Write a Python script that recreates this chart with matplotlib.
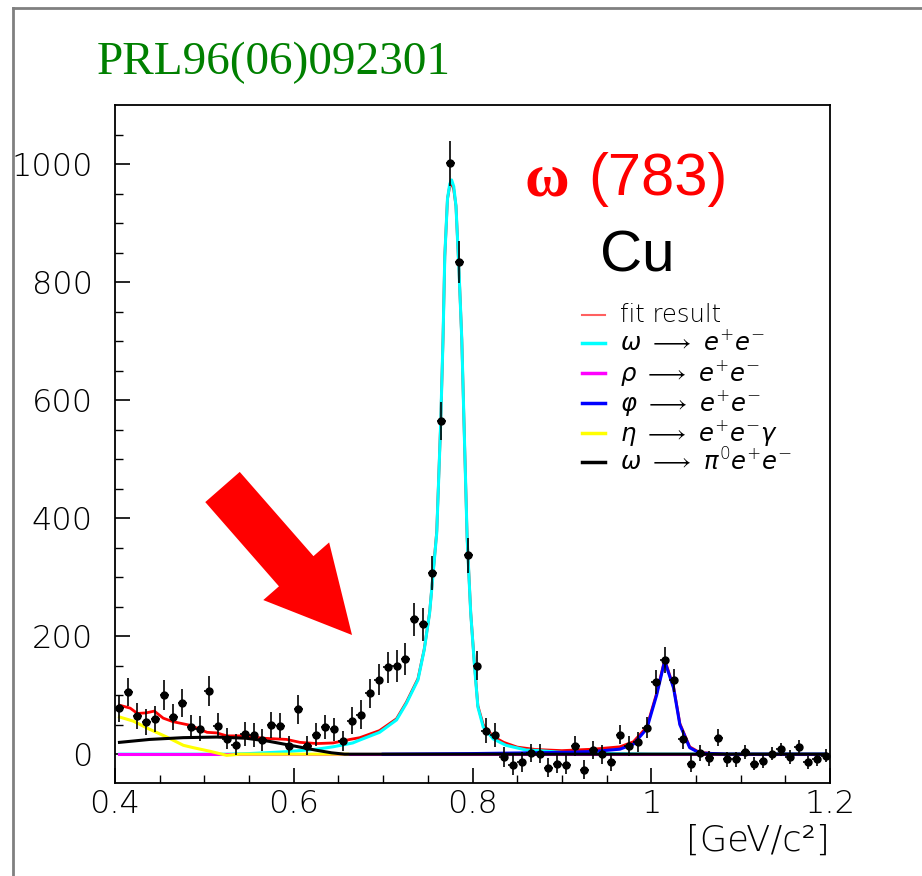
"""
omega(783) -> e+e- mass spectrum on Cu with fit components (KEK E325 style plot).
"""
import matplotlib
matplotlib.use("Agg")
import matplotlib.pyplot as plt
from matplotlib.lines import Line2D

W, H = 922, 876

# background-subtracted e+e- invariant mass spectrum, 10 MeV bins
mass = [0.405, 0.415, 0.425, 0.435, 0.445, 0.455, 0.465, 0.475, 0.485, 0.495,
        0.505, 0.515, 0.525, 0.535, 0.545, 0.555, 0.565, 0.575, 0.585, 0.595,
        0.605, 0.615, 0.625, 0.635, 0.645, 0.655, 0.665, 0.675, 0.685, 0.695,
        0.705, 0.715, 0.725, 0.735, 0.745, 0.755, 0.765, 0.775, 0.785, 0.795,
        0.805, 0.815, 0.825, 0.835, 0.845, 0.855, 0.865, 0.875, 0.885, 0.895,
        0.905, 0.915, 0.925, 0.935, 0.945, 0.955, 0.965, 0.975, 0.985, 0.995,
        1.005, 1.015, 1.025, 1.035, 1.045, 1.055, 1.065, 1.075, 1.085, 1.095,
        1.105, 1.115, 1.125, 1.135, 1.145, 1.155, 1.165, 1.175, 1.185, 1.195]
counts = [78, 105, 65, 54, 60, 100, 63, 87, 46, 43,
          107, 48, 26, 16, 34, 33, 24, 50, 48, 14,
          76, 14, 33, 46, 42, 23, 57, 67, 103, 126,
          147, 149, 162, 229, 220, 307, 565, 1001, 834, 337,
          150, 40, 32, -5, -19, -14, 2, 1, -23, -16,
          -18, 14, -26, 7, 0, -13, 33, 14, 20, 45,
          122, 160, 125, 25, -16, 2, -7, 28, -9, -9,
          3, -16, -12, 1, 8, -5, 12, -14, -9, -3]
errors = [23, 24, 22, 22, 22, 25, 22, 24, 21, 21,
          26, 21, 18, 18, 20, 20, 19, 22, 21, 16,
          25, 16, 19, 21, 20, 17, 23, 24, 25, 26,
          26, 27, 27, 28, 28, 29, 32, 38, 35, 30,
          24, 21, 20, 17, 17, 17, 16, 16, 16, 16,
          16, 17, 16, 15, 16, 15, 16, 17, 17, 18,
          20, 22, 20, 16, 14, 13, 13, 14, 12, 12,
          12, 11, 12, 11, 11, 12, 12, 11, 11, 11]

# fit result (sum of all components)
fit_x = [0.405, 0.417, 0.425, 0.435, 0.444, 0.454, 0.465, 0.484, 0.503, 0.514,
         0.525, 0.544, 0.566, 0.592, 0.607, 0.626, 0.644, 0.663, 0.674, 0.696,
         0.715, 0.726, 0.739, 0.746, 0.752, 0.756, 0.760, 0.7645, 0.767, 0.769,
         0.772, 0.7745, 0.7766, 0.779, 0.7815, 0.785, 0.788, 0.791, 0.794, 0.798,
         0.802, 0.806, 0.812, 0.823, 0.835, 0.850, 0.870, 0.900, 0.935, 0.965,
         0.980, 0.995, 1.006, 1.015, 1.025, 1.032, 1.043, 1.054, 1.070, 1.085,
         1.195]
fit_y = [83, 78, 69, 70, 73, 61, 55, 49, 37, 36,
         31, 31, 27, 25, 20, 18, 19, 25, 28, 40,
         60, 88, 128, 178, 240, 308, 378, 565, 703, 844,
         941, 962, 968, 957, 929, 816, 703, 533, 366, 240,
         156, 82, 50, 30, 20, 12, 8, 6, 8.5, 12.5,
         21, 46, 103, 160, 114, 52, 12.5, 3, 1, 0,
         0]

# omega -> e+e-
omg_x = [0.405, 0.525, 0.550, 0.590, 0.626, 0.644, 0.666, 0.674, 0.696, 0.715,
         0.726, 0.739, 0.746, 0.752, 0.756, 0.760, 0.7645, 0.767, 0.769, 0.772,
         0.7745, 0.7766, 0.779, 0.7815, 0.785, 0.788, 0.791, 0.794, 0.798, 0.802,
         0.806, 0.812, 0.823, 0.8375, 0.860, 0.875, 0.900, 0.950, 1.000, 1.195]
omg_y = [0, 0, 1, 4, 8.5, 12.5, 19, 24, 37, 58,
         86, 126, 177, 239, 307, 375, 565, 703, 844, 941,
         966, 973, 962, 929, 816, 703, 533, 366, 239, 154,
         80, 46, 26, 15, 7, 6, 3, 1, 0, 0]

# rho -> e+e-
rho_x = [0.405, 1.195]
rho_y = [0, 0]

# phi -> e+e-
phi_x = [0.700, 0.800, 0.850, 0.900, 0.935, 0.965, 0.980, 0.995, 1.006,
         1.015, 1.025, 1.032, 1.043, 1.054, 1.085, 1.195]
phi_y = [0, 1, 2, 3, 4.5, 8.5, 17, 43, 100,
         158, 112, 50, 11, 2, 0, 0]

# eta -> e+e-gamma
eta_x = [0.405, 0.4205, 0.439, 0.458, 0.4765, 0.4876, 0.506, 0.525, 0.540, 0.660]
eta_y = [63, 56, 42, 29, 15, 11, 5, -2, 0, 0]

# omega -> pi0 e+e-
dal_x = [0.405, 0.439, 0.4765, 0.514, 0.5466, 0.5715, 0.600, 0.624, 0.6423, 0.657, 1.195]
dal_y = [20, 25, 28, 29, 27, 22, 14, 7, 2.3, 0, 0]

x_ticks = [0.4, 0.6, 0.8, 1.0, 1.2]
x_tick_labels = ["0.4", "0.6", "0.8", "1", "1.2"]
y_ticks = [0, 200, 400, 600, 800, 1000]
y_tick_labels = ["0", "200", "400", "600", "800", "1000"]

legend_labels = ["fit result",
                 r"$\omega\ \longrightarrow\ e^{+}e^{-}$",
                 r"$\rho\ \longrightarrow\ e^{+}e^{-}$",
                 r"$\varphi\ \longrightarrow\ e^{+}e^{-}$",
                 r"$\eta\ \longrightarrow\ e^{+}e^{-}\gamma$",
                 r"$\omega\ \longrightarrow\ \pi^{0}e^{+}e^{-}$"]
legend_colors = ["#ff6060", "#00ffff", "#ff00ff", "#0000ff", "#ffff00", "#000000"]

plt.rcParams["font.family"] = ["DejaVu Sans"]
plt.rcParams["font.weight"] = "light"
plt.rcParams["mathtext.fontset"] = "dejavusans"


def fx(px):
    return px / W


def fy(py):
    return 1 - py / H


fig = plt.figure(figsize=(W / 100, H / 100), dpi=100)
fig.patch.set_facecolor("white")
ax = fig.add_axes([fx(115), fy(782.5), fx(830) - fx(115), fy(105) - fy(782.5)])

# fit curves
ax.plot(fit_x, fit_y, color="red", lw=2.0, zorder=3)
ax.plot(omg_x, omg_y, color="#00ffff", lw=2.2, zorder=3)
ax.plot(rho_x, rho_y, color="#ff00ff", lw=2.2, zorder=3)
ax.plot(phi_x, phi_y, color="#0000ff", lw=2.2, zorder=3)
ax.plot(eta_x, eta_y, color="#ffff00", lw=2.2, zorder=3)
ax.plot(dal_x, dal_y, color="black", lw=2.2, zorder=3)

# data points
ax.errorbar(mass, counts, yerr=errors, xerr=0.005, fmt="o", ms=5,
            color="black", ecolor="black", elinewidth=1.2, capsize=0, zorder=4)

ax.set_xlim(0.4, 1.2)
ax.set_ylim(-48, 1100)
ax.set_xticks(x_ticks)
ax.set_xticklabels(x_tick_labels)
ax.set_yticks(y_ticks)
ax.set_yticklabels(y_tick_labels)
ax.set_xticks([0.45, 0.5, 0.55, 0.65, 0.7, 0.75, 0.85, 0.9, 0.95,
               1.05, 1.1, 1.15], minor=True)
ax.set_yticks([50, 100, 150, 250, 300, 350, 450, 500, 550, 650, 700, 750,
               850, 900, 950, 1050], minor=True)
ax.tick_params(which="major", direction="in", length=11, width=1.2, labelsize=23)
ax.tick_params(which="minor", direction="in", length=5.5, width=1.0)
ax.tick_params(axis="y", which="major", pad=16)
ax.tick_params(axis="x", which="major", pad=5)
for s in ax.spines.values():
    s.set_linewidth(1.3)

# legend drawn as a plain list of entries
row_y = [315, 343, 373, 403, 433, 462]
for lab, col, py in zip(legend_labels, legend_colors, row_y):
    lw = 1.5 if lab == "fit result" else 2.5
    fig.add_artist(Line2D([fx(582), fx(605)], [fy(py), fy(py)], color=col, lw=lw))
    fig.text(fx(620), fy(py), lab, fontsize=17.5, va="center", ha="left")

# labels
fig.text(fx(97), fy(74), "PRL96(06)092301", color="#008000",
         family="Liberation Serif", weight="normal", fontsize=34, va="baseline")
fig.text(fx(524), fy(195), "ω", color="red", family="Liberation Serif",
         weight="bold", fontsize=44, va="baseline")
fig.text(fx(588), fy(195), "(783)", color="red", family="Liberation Sans",
         weight="normal", fontsize=43, va="baseline")
fig.text(fx(600), fy(272), "Cu", color="black", family="Liberation Sans",
         weight="normal", fontsize=42, va="baseline")
fig.text(fx(830), fy(851), "[GeV/c²]", fontsize=25.5, ha="right", va="baseline")

# big red arrow pointing at the low-mass excess
ax.annotate("", xy=(352, H - 635), xytext=(222.5, H - 487),
            xycoords="figure pixels", textcoords="figure pixels",
            arrowprops=dict(arrowstyle="simple,head_length=61,head_width=63,tail_width=33",
                            mutation_scale=1, color="red", lw=0,
                            shrinkA=0, shrinkB=0),
            annotation_clip=False)

# outer pad frame
fig.add_artist(Line2D([fx(13), fx(13)], [fy(8), 0], color="#808080", lw=2))
fig.add_artist(Line2D([fx(13), 1], [fy(8), fy(8)], color="#808080", lw=2))

fig.savefig("out.png", dpi=100, facecolor="white")
plt.close(fig)
